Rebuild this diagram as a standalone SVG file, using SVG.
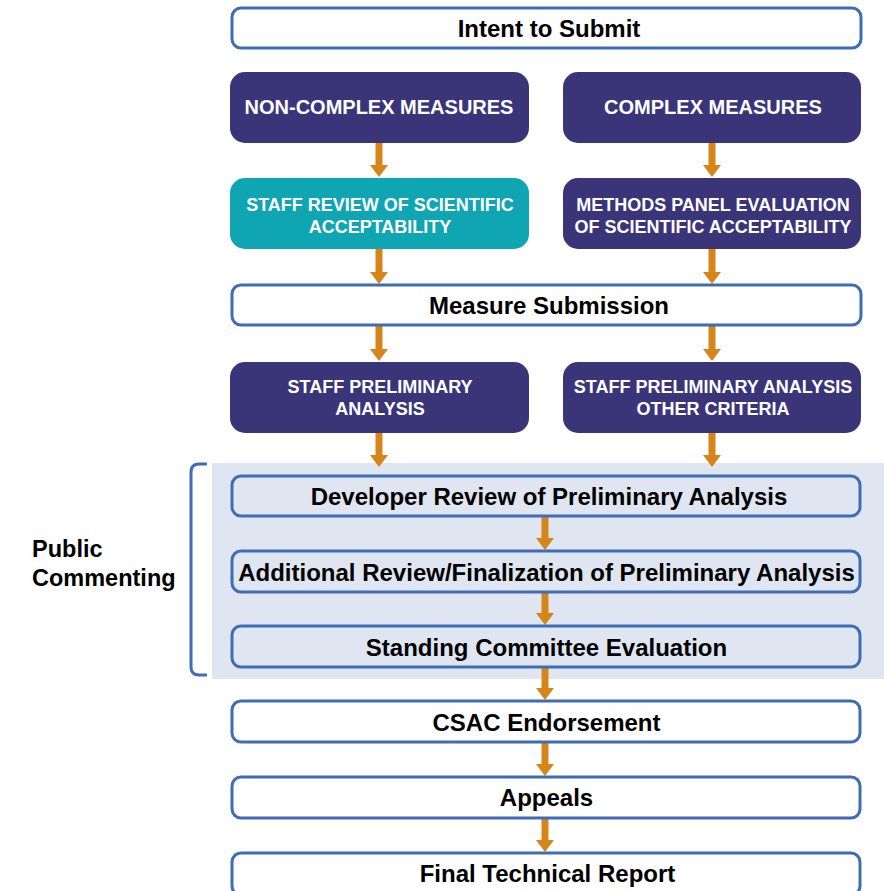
<svg xmlns="http://www.w3.org/2000/svg" width="884" height="891" viewBox="0 0 884 891">
<style>
.wbox{fill:#ffffff;stroke:#3e6db5;stroke-width:3}
.lbox{fill:#dfe6f1;stroke:#3e6db5;stroke-width:3}
.dbox{fill:#3a3578}
.tbox{fill:#10a5b3}
.bt{font-family:"Liberation Sans",Arial,sans-serif;font-weight:bold;font-size:24px;fill:#000;text-anchor:middle}
.wt{font-family:"Liberation Sans",Arial,sans-serif;font-weight:bold;font-size:18px;fill:#fff;text-anchor:middle}
.wt20{font-size:20px}
.side{font-family:"Liberation Sans",Arial,sans-serif;font-weight:bold;font-size:23.5px;fill:#000}
.arr{fill:#d5851a}
</style>
<rect x="212" y="463" width="672" height="216" fill="#dfe6f1"/>
<path d="M207,464 H199 Q191,464 191,472 V667 Q191,675 199,675 H207" fill="none" stroke="#3e6db5" stroke-width="3"/>
<text class="side" x="32" y="557">Public</text>
<text class="side" x="32" y="586">Commenting</text>

<g id="connectors">
<path class="arr" d="M375.5,143 H382.5 V165 H388 L379,177 L370,165 H375.5 Z"/>
<path class="arr" d="M708.5,143 H715.5 V165 H721 L712,177 L703,165 H708.5 Z"/>
<path class="arr" d="M375.5,249 H382.5 V272 H388 L379,284 L370,272 H375.5 Z"/>
<path class="arr" d="M708.5,249 H715.5 V272 H721 L712,284 L703,272 H708.5 Z"/>
<path class="arr" d="M375.5,326 H382.5 V349 H388 L379,361 L370,349 H375.5 Z"/>
<path class="arr" d="M708.5,326 H715.5 V349 H721 L712,361 L703,349 H708.5 Z"/>
<path class="arr" d="M375.5,433 H382.5 V455 H388 L379,467 L370,455 H375.5 Z"/>
<path class="arr" d="M708.5,433 H715.5 V455 H721 L712,467 L703,455 H708.5 Z"/>
<path class="arr" d="M541.5,517 H548.5 V538 H554 L545,550 L536,538 H541.5 Z"/>
<path class="arr" d="M541.5,593 H548.5 V613 H554 L545,625 L536,613 H541.5 Z"/>
<path class="arr" d="M541.5,668 H548.5 V688 H554 L545,700 L536,688 H541.5 Z"/>
<path class="arr" d="M541.5,743 H548.5 V764 H554 L545,776 L536,764 H541.5 Z"/>
<path class="arr" d="M541.5,819 H548.5 V840 H554 L545,852 L536,840 H541.5 Z"/>
</g>

<g id="intent"><rect class="wbox" x="232" y="8" width="629" height="40" rx="9"/><text class="bt" x="549" y="36.5">Intent to Submit</text></g>
<g id="noncomplex"><rect class="dbox" x="230" y="72" width="299" height="71" rx="15"/><text class="wt wt20" x="379" y="114">NON-COMPLEX MEASURES</text></g>
<g id="complex"><rect class="dbox" x="563" y="72" width="298" height="71" rx="15"/><text class="wt wt20" x="713" y="114">COMPLEX MEASURES</text></g>
<g id="staffreview"><rect class="tbox" x="230" y="178" width="299" height="71" rx="15"/><text class="wt" x="380" y="210.5">STAFF REVIEW OF SCIENTIFIC</text><text class="wt" x="380" y="232.5">ACCEPTABILITY</text></g>
<g id="methods"><rect class="dbox" x="563" y="178" width="298" height="71" rx="15"/><text class="wt" x="713" y="210.5">METHODS PANEL EVALUATION</text><text class="wt" x="713" y="232.5">OF SCIENTIFIC ACCEPTABILITY</text></g>
<g id="submission"><rect class="wbox" x="232" y="285" width="629" height="40" rx="9"/><text class="bt" x="549" y="313.5">Measure Submission</text></g>
<g id="staffprelim"><rect class="dbox" x="230" y="362" width="299" height="71" rx="15"/><text class="wt" x="380" y="392.5">STAFF PRELIMINARY</text><text class="wt" x="380" y="414.5">ANALYSIS</text></g>
<g id="staffother"><rect class="dbox" x="563" y="362" width="298" height="71" rx="15"/><text class="wt" x="713" y="392.5">STAFF PRELIMINARY ANALYSIS</text><text class="wt" x="713" y="414.5">OTHER CRITERIA</text></g>
<g id="developer"><rect class="lbox" x="232" y="476" width="628" height="40" rx="9"/><text class="bt" x="549" y="504.5">Developer Review of Preliminary Analysis</text></g>
<g id="additional"><rect class="lbox" x="232" y="551" width="628" height="41" rx="9"/><text class="bt" x="546.5" y="580.5">Additional Review/Finalization of Preliminary Analysis</text></g>
<g id="standing"><rect class="lbox" x="232" y="626" width="628" height="41" rx="9"/><text class="bt" x="546.5" y="655.5">Standing Committee Evaluation</text></g>
<g id="csac"><rect class="wbox" x="232" y="701" width="628" height="41" rx="9"/><text class="bt" x="546.5" y="730.5">CSAC Endorsement</text></g>
<g id="appeals"><rect class="wbox" x="232" y="777" width="628" height="41" rx="9"/><text class="bt" x="546.5" y="805.5">Appeals</text></g>
<g id="final"><rect class="wbox" x="232" y="853" width="628" height="42" rx="9"/><text class="bt" x="547.5" y="881.5">Final Technical Report</text></g>
</svg>
